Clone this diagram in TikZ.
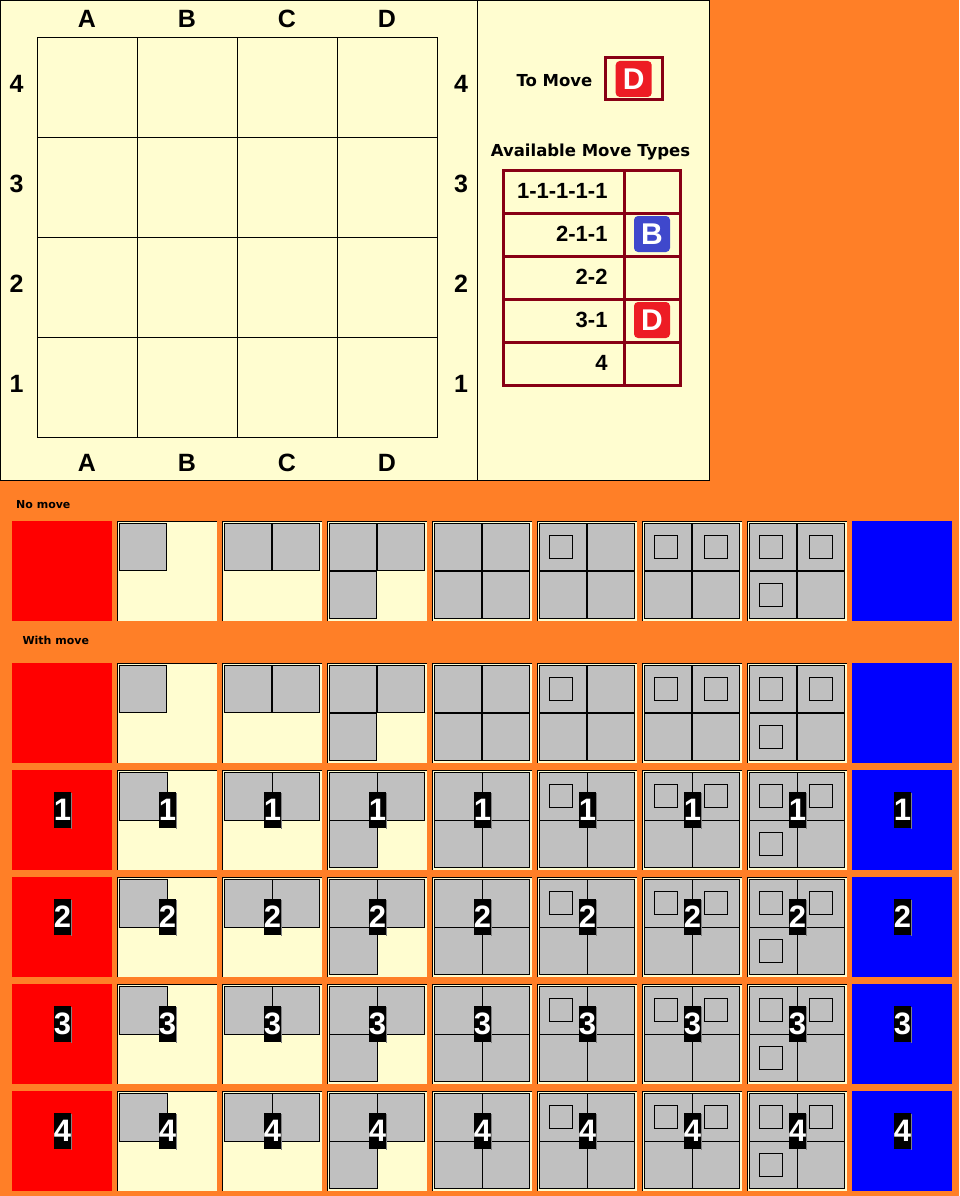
\documentclass[tikz,border=0pt]{standalone}
\usepackage{fontspec}
\setmainfont{Liberation Sans}
\newfontfamily\dv{DejaVu Sans}
\definecolor{bg}{RGB}{255,127,39}
\definecolor{cream}{RGB}{255,253,208}
\definecolor{tilegray}{RGB}{192,192,192}
\definecolor{dred}{RGB}{136,0,21}
\definecolor{pred}{RGB}{237,28,36}
\definecolor{pblue}{RGB}{63,72,204}
\definecolor{shadow}{RGB}{128,128,128}
\newcommand\mycell[5]{% X Y i j g
  \filldraw[fill=tilegray,draw=black] ({#1+2.5+#3*(47.5+#5)},{#2+2.5+#4*(47.5+#5)}) rectangle ({#1+50-#5+#3*(47.5+#5)},{#2+50-#5+#4*(47.5+#5)});}
\newcommand\myinner[4]{% X Y i j
  \draw[black] ({#1+12.5+50*#3},{#2+14.5+48*#4}) rectangle ({#1+35.5+50*#3},{#2+37.5+48*#4});}
\newcommand\mytile[4]{% X Y k g
  \fill[cream] (#1,#2) rectangle ({#1+100},{#2+100});
  \draw[black] ({#1+0.5},{#2+100}) -- ({#1+0.5},{#2+0.5}) -- ({#1+100},{#2+0.5});
  \ifnum#3>0 \mycell{#1}{#2}{0}{0}{#4}\fi
  \ifnum#3>1 \mycell{#1}{#2}{1}{0}{#4}\fi
  \ifnum#3>2 \mycell{#1}{#2}{0}{1}{#4}\fi
  \ifnum#3>3 \mycell{#1}{#2}{1}{1}{#4}\fi
  \ifnum#3>4 \myinner{#1}{#2}{0}{0}\fi
  \ifnum#3>5 \myinner{#1}{#2}{1}{0}\fi
  \ifnum#3>6 \myinner{#1}{#2}{0}{1}\fi}
\newcommand\mylab[4]{% X Y n name
  \fill[shadow] ({#1+59},{#2+23}) rectangle ({#1+60},{#2+59});
  \node[numlab] (#4) at ({#1+50.5},{#2+40}) {#3};}
\tikzset{
  blab/.style={inner sep=0pt,font=\fontsize{25}{25}\selectfont\bfseries},
  hdr/.style={inner sep=0pt,font=\dv\fontsize{16.5}{18}\selectfont\bfseries},
  small/.style={inner sep=0pt,font=\dv\fontsize{11}{12}\selectfont\bfseries},
  tabtxt/.style={inner sep=0pt,anchor=east,font=\fontsize{22}{22}\selectfont\bfseries},
  letbox/.style={rounded corners=4pt,minimum width=36pt,minimum height=36pt,inner sep=0pt,text=white,font=\fontsize{30}{30}\selectfont\bfseries},
  numlab/.style={fill=black,text=white,minimum width=17pt,minimum height=36pt,inner sep=0pt,font=\fontsize{31}{31}\selectfont\bfseries}
}
\begin{document}
\begin{tikzpicture}[x=1pt,y=-1pt,line width=1pt]
\fill[bg] (0,0) rectangle (959,1196);
\useasboundingbox (0,0) rectangle (959,1196);
% top panel
\filldraw[fill=cream,draw=black] (0.5,0.5) rectangle (709.5,480.5);
\draw (477.5,0.5) -- (477.5,480.5);
% board
\foreach \i in {0,...,4} {
  \draw ({37.5+100*\i},37.5) -- ({37.5+100*\i},437.5);
  \draw (37.5,{37.5+100*\i}) -- (437.5,{37.5+100*\i});
}
\foreach \l [count=\i from 0] in {A,B,C,D} {
  \node[blab] (ct\i) at ({87+100*\i},19) {\l};
  \node[blab] (cb\i) at ({87+100*\i},463) {\l};
}
\foreach \l [count=\i from 0] in {4,3,2,1} {
  \node[blab] (rl\i) at (16.5,{84+100*\i}) {\l};
  \node[blab] (rr\i) at (461,{84+100*\i}) {\l};
}
% to move
\node[hdr,anchor=base west] (tomove) at (516,87) {To Move};
\draw[dred,line width=3pt] (605,57.5) rectangle (662,100);
\node[letbox,fill=pred] (tmD) at (633.7,79) {D};
\node[hdr,anchor=base] (amt) at (590.5,156) {Available Move Types};
% table
\draw[dred,line width=3pt] (503,170.5) rectangle (680,385.5);
\foreach \i in {1,...,4} \draw[dred,line width=3pt] (503,{170.5+43*\i}) -- (680,{170.5+43*\i});
\draw[dred,line width=3pt] (624,170.5) -- (624,385.5);
\foreach \t [count=\i from 0] in {1-1-1-1-1,2-1-1,2-2,3-1,4}
  \node[tabtxt] (tt\i) at (608,{191+43*\i}) {\t};
\node[letbox,fill=pblue] (tbB) at (652,234) {B};
\node[letbox,fill=pred] (tbD) at (652,320) {D};
% labels
\node[small,anchor=base west] (nomove) at (15.7,508.3) {No move};
\node[small,anchor=base west] (withmove) at (22,644.3) {With move};
% tiles
\foreach \Y/\n in {521/0,663/0,770/1,877/2,984/3,1091/4} {
  \pgfmathsetmacro\g{ifthenelse(\n==0,0.5,0)}
  \fill[red] (12,\Y) rectangle (112,{\Y+100});
  \fill[blue] (852,\Y) rectangle (952,{\Y+100});
  \foreach \k in {1,...,7} {
    \pgfmathsetmacro\X{12+105*\k}
    \mytile{\X}{\Y}{\k}{\g}
    \ifnum\n>0 \mylab{\X}{\Y}{\n}{lab\n-\k}\fi
  }
  \ifnum\n>0
    \mylab{12}{\Y}{\n}{labr\n}
    \mylab{852}{\Y}{\n}{labb\n}
  \fi
}
\end{tikzpicture}
\end{document}
